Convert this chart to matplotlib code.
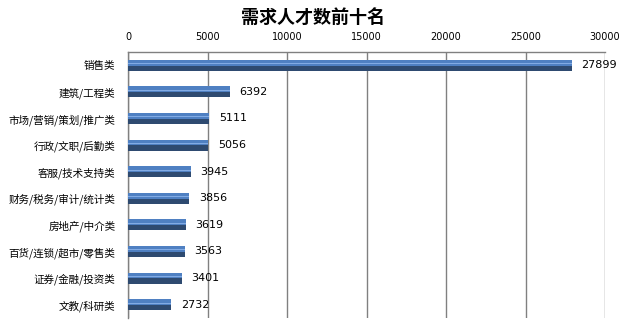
import matplotlib
matplotlib.use("Agg")
import matplotlib.pyplot as plt

plt.rcParams['font.family'] = ['Noto Sans CJK SC', 'DejaVu Sans']

categories = ["销售类", "建筑/工程类", "市场/营销/策划/推广类", "行政/文职/后勤类",
              "客服/技术支持类", "财务/税务/审计/统计类", "房地产/中介类",
              "百货/连锁/超市/零售类", "证券/金融/投资类", "文教/科研类"]
values = [27899, 6392, 5111, 5056, 3945, 3856, 3619, 3563, 3401, 2732]
xticks = [0, 5000, 10000, 15000, 20000, 25000, 30000]
title = "需求人才数前十名"

fig = plt.figure(figsize=(6.28, 3.28), dpi=100)
ax = fig.add_axes([128/628, 1-318/328, (605-128)/628, (318-52)/328])

ypos = list(range(len(categories)))
h = 0.42
# base dark bar
ax.barh(ypos, values, height=h, color='#2e4a70', edgecolor='none', zorder=3)
# lighter top portion
top_frac = 0.52
ax.barh([y - h*0.5 + h*top_frac/2 for y in ypos], values, height=h*top_frac,
        color='#4f80c2', edgecolor='none', zorder=4)
# highlight stripe
ax.barh([y - h*0.5 + h*0.36 for y in ypos], values, height=h*0.10, color='#82abe4',
        edgecolor='none', zorder=5)

for y, v in zip(ypos, values):
    ax.text(v + 600, y, str(v), va='center', ha='left', fontsize=8,
            family=['DejaVu Sans'], zorder=6)

ax.set_ylim(len(categories) - 0.5, -0.5)
ax.set_xlim(0, 30000)
ax.set_xticks(xticks)
ax.set_xticklabels([str(t) for t in xticks], fontsize=7, family=['DejaVu Sans'])
ax.xaxis.tick_top()
ax.tick_params(axis='x', length=0, pad=7)
ax.set_yticks(ypos)
ax.set_yticklabels(categories, fontsize=7.6)
ax.tick_params(axis='y', length=0, pad=9)

ax.grid(axis='x', color='#808080', linewidth=1, zorder=0)
for s in ['bottom', 'right']:
    ax.spines[s].set_visible(False)
for s in ['top', 'left']:
    ax.spines[s].set_color('#808080')
    ax.spines[s].set_linewidth(1)

fig.text(313/628, 1-17/328, title, ha='center', va='center', fontsize=13, fontweight='bold')

fig.savefig("out.png", dpi=100, facecolor='white')
